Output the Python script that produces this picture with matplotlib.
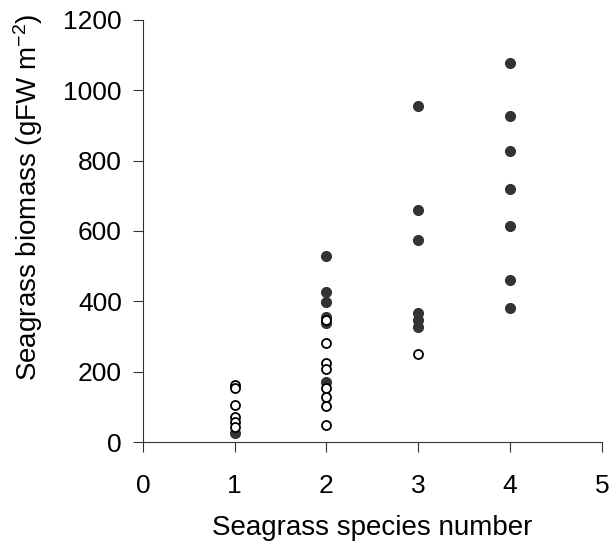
import matplotlib
matplotlib.use("Agg")
import matplotlib.pyplot as plt

plt.rcParams['font.family'] = ['Liberation Sans', 'DejaVu Sans']
plt.rcParams['mathtext.default'] = 'regular'

# filled circles (species number, biomass)
filled_x = [1, 2, 2, 2, 2, 2, 2,
            3, 3, 3, 3, 3, 3,
            4, 4, 4, 4, 4, 4, 4]
filled_y = [26, 529, 427, 398, 356, 338, 171,
            955, 660, 574, 366, 347, 326,
            1077, 928, 828, 719, 614, 461, 381]

# open circles
open_x = [1, 1, 1, 1, 1, 1,
          2, 2, 2, 2, 2, 2, 2, 2,
          3]
open_y = [162, 154, 105, 71, 57, 43,
          347, 281, 225, 207, 153, 129, 103, 48,
          250]

fig = plt.figure(figsize=(6.13, 5.5), dpi=100)
ax = fig.add_axes([0.233, 0.196, 0.749, 0.768])

ax.plot(filled_x, filled_y, 'o', color='#333333', markersize=7, zorder=3)
ax.plot(open_x, open_y, 'o', markerfacecolor='white', markeredgecolor='black',
        markeredgewidth=1.3, markersize=6.5, zorder=4)

ax.set_xlim(0, 5)
ax.set_ylim(0, 1200)
ax.set_xticks(range(0, 6))
ax.set_yticks(range(0, 1201, 200))
for s in ['top', 'right']:
    ax.spines[s].set_visible(False)
for s in ['left', 'bottom']:
    ax.spines[s].set_color('#333333')
ax.tick_params(direction='out', length=7, color='#333333', labelsize=19)
ax.tick_params(axis='y', pad=8)
ax.tick_params(axis='x', pad=16)

ax.set_xlabel('Seagrass species number', fontsize=20, va='center')
ax.set_ylabel('Seagrass biomass (gFW m$^{-2}$)', fontsize=20, va='center')
ax.xaxis.set_label_coords(0.5, -0.203)
ax.yaxis.set_label_coords(-0.25, 0.58)

fig.savefig('out.png', dpi=100)
